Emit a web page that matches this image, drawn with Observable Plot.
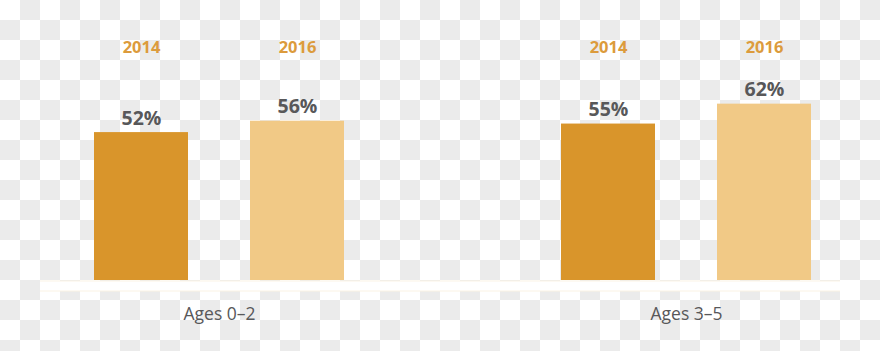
<!DOCTYPE html>
<html>
<head>
<meta charset="utf-8">
<script src="https://cdn.jsdelivr.net/npm/d3@7"></script>
<script src="https://cdn.jsdelivr.net/npm/@observablehq/plot@0.6"></script>
<style>
  html, body { margin: 0; padding: 0; }
  body {
    width: 880px; height: 351px; overflow: hidden;
    background: repeating-conic-gradient(#ebebeb 0% 25%, #ffffff 0% 50%) 0 0 / 40px 40px;
  }
  #chart svg { display: block; background: transparent; }
</style>
</head>
<body>
<div id="chart"></div>
<script>
// Data
const groups = ["Ages 0–2", "Ages 3–5"];
const years = ["2014", "2016"];
const values2014 = [52, 55];
const values2016 = [56, 62];

const colors = { "2014": "#d9952b", "2016": "#f1c986" };
const yearLabelColor = "#dc9b3c";

const rows2014 = groups.map((g, i) => ({ group: g, year: years[0], value: values2014[i] }));
const rows2016 = groups.map((g, i) => ({ group: g, year: years[1], value: values2016[i] }));

const halfGap = 78;   // offset of each bar centre from its group centre
const inset = 156;    // inset that narrows each group band to one bar

const font = "'Open Sans', sans-serif";

const chart = Plot.plot({
  width: 880,
  height: 351,
  marginLeft: 40,
  marginRight: 40,
  marginTop: 24,
  marginBottom: 71,
  style: { background: "transparent", fontFamily: font },
  x: {
    type: "band",
    domain: groups,
    paddingInner: 0.4652,
    paddingOuter: 0.0882,
    align: 0.6545,
    axis: null
  },
  y: { domain: [0, 90], axis: null },
  marks: [
    Plot.ruleY([0], { stroke: "#fbf3e4", strokeWidth: 11, dy: 5.5 }),
    Plot.ruleY([0], { stroke: "#ffffff", strokeWidth: 9, dy: 5.5 }),
    Plot.barY(rows2014, { x: "group", y: "value", fill: colors["2014"], insetRight: inset }),
    Plot.barY(rows2016, { x: "group", y: "value", fill: colors["2016"], insetLeft: inset }),
    Plot.text(rows2014, {
      x: "group", y: "value", text: d => d.value + "%", dx: -halfGap, dy: -14,
      lineAnchor: "middle", fontSize: 19.5, fontWeight: 700, fill: "#58585a", fontFamily: font
    }),
    Plot.text(rows2016, {
      x: "group", y: "value", text: d => d.value + "%", dx: halfGap, dy: -14,
      lineAnchor: "middle", fontSize: 19.5, fontWeight: 700, fill: "#58585a", fontFamily: font
    }),
    Plot.text(rows2014, {
      x: "group", text: "year", frameAnchor: "top", dx: -halfGap, dy: 23,
      lineAnchor: "middle", fontSize: 16.5, fontWeight: 700, fill: yearLabelColor, fontFamily: font
    }),
    Plot.text(rows2016, {
      x: "group", text: "year", frameAnchor: "top", dx: halfGap, dy: 23,
      lineAnchor: "middle", fontSize: 16.5, fontWeight: 700, fill: yearLabelColor, fontFamily: font
    }),
    Plot.axisX({
      tickSize: 0, tickPadding: 27, fontSize: 17.5, fill: "#58585a",
      fontFamily: font, label: null
    })
  ]
});

document.getElementById("chart").appendChild(chart);
</script>
</body>
</html>
